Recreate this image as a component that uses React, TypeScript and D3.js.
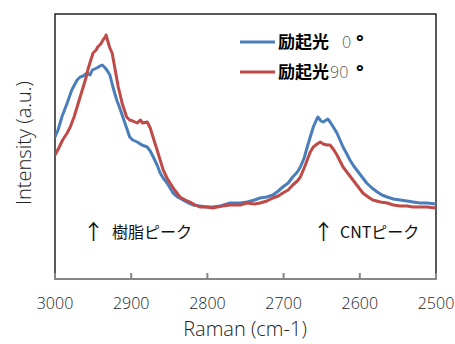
import * as d3 from "d3"

// Raman shift (cm-1) and intensity (a.u.)
const blueShift = [3000, 2996, 2991, 2984, 2978, 2971, 2967, 2963, 2958, 2954, 2951, 2945, 2941, 2938, 2934, 2932, 2928, 2924, 2919, 2915, 2911, 2906, 2902, 2898, 2892, 2886, 2879, 2875, 2871, 2866, 2862, 2858, 2853, 2849, 2845, 2839, 2832, 2825, 2819, 2810, 2801, 2793, 2783, 2770, 2757, 2748, 2738, 2731, 2722, 2714, 2707, 2701, 2694, 2688, 2682, 2678, 2673, 2669, 2665, 2661, 2657, 2655, 2651, 2648, 2644, 2642, 2639, 2634, 2630, 2626, 2622, 2617, 2613, 2608, 2604, 2597, 2591, 2584, 2577, 2571, 2564, 2556, 2547, 2538, 2530, 2521, 2512, 2500]
const blueValues = [1420, 1490, 1620, 1760, 1890, 1990, 2020, 2030, 2060, 2040, 2090, 2110, 2130, 2140, 2110, 2090, 2040, 1920, 1790, 1710, 1620, 1510, 1420, 1390, 1370, 1340, 1320, 1280, 1220, 1140, 1060, 1010, 960, 910, 860, 820, 790, 760, 740, 730, 720, 720, 730, 760, 760, 770, 790, 810, 820, 840, 880, 920, 960, 1020, 1070, 1120, 1210, 1320, 1420, 1520, 1590, 1620, 1580, 1570, 1590, 1600, 1570, 1510, 1460, 1390, 1320, 1250, 1190, 1130, 1090, 1020, 960, 910, 870, 840, 820, 800, 790, 780, 770, 760, 760, 750]

const redShift = [3000, 2995, 2990, 2984, 2980, 2975, 2971, 2967, 2963, 2959, 2957, 2953, 2950, 2946, 2944, 2940, 2937, 2934, 2933, 2930, 2928, 2925, 2921, 2917, 2915, 2912, 2909, 2906, 2902, 2898, 2892, 2888, 2885, 2879, 2875, 2871, 2866, 2862, 2858, 2853, 2849, 2843, 2836, 2829, 2823, 2816, 2810, 2801, 2793, 2787, 2780, 2770, 2757, 2748, 2738, 2731, 2722, 2714, 2707, 2701, 2694, 2688, 2682, 2678, 2673, 2669, 2665, 2661, 2656, 2652, 2648, 2643, 2639, 2634, 2630, 2626, 2622, 2615, 2609, 2602, 2596, 2589, 2583, 2573, 2564, 2556, 2547, 2538, 2530, 2521, 2512, 2500]
const redValues = [1240, 1310, 1390, 1460, 1520, 1620, 1720, 1820, 1920, 2020, 2090, 2190, 2260, 2290, 2320, 2350, 2390, 2420, 2440, 2360, 2310, 2260, 2090, 1920, 1860, 1760, 1690, 1620, 1590, 1580, 1560, 1590, 1560, 1570, 1510, 1410, 1290, 1190, 1090, 1010, 960, 890, 820, 790, 770, 740, 720, 720, 710, 720, 730, 740, 740, 760, 750, 760, 780, 810, 830, 860, 890, 940, 980, 1020, 1110, 1190, 1270, 1320, 1350, 1370, 1350, 1340, 1340, 1290, 1240, 1180, 1120, 1050, 990, 920, 860, 820, 790, 770, 760, 740, 730, 730, 720, 720, 720, 710]

const xTicks = [3000, 2900, 2800, 2700, 2600, 2500]
const seriesNames = ["励起光", "励起光"]
const seriesAngles = ["0", "90"]
const seriesColors = ["#4a7ebb", "#be4b48"]

const latin = "'Open Sans', 'Noto Sans CJK JP', sans-serif"
const cjk = "'Noto Sans CJK JP', 'Open Sans', sans-serif"

export default function App() {
    const width = 455
    const height = 344
    const margin = { top: 14, right: 19, bottom: 65, left: 55 }
    const innerW = width - margin.left - margin.right
    const innerH = height - margin.top - margin.bottom

    const x = d3.scaleLinear().domain([3000, 2500]).range([0, innerW])
    const y = d3.scaleLinear().domain([0, 2650]).range([innerH, 0])

    const makePath = (xs: number[], ys: number[]) =>
        d3
            .line<number>()
            .x((_, i) => x(xs[i]))
            .y((_, i) => y(ys[i]))(xs) ?? ""

    const series = [
        { xs: blueShift, ys: blueValues },
        { xs: redShift, ys: redValues },
    ]

    return (
        <div style={{ position: "fixed", left: 0, top: 0 }}>
            <svg width={width} height={height} style={{ display: "block", background: "#fff" }}>
                <defs>
                    <clipPath id="plot">
                        <rect x={0} y={0} width={innerW} height={innerH} />
                    </clipPath>
                </defs>
                <g transform={`translate(${margin.left},${margin.top})`}>
                    {/* Plot frame */}
                    <rect x={0} y={0} width={innerW} height={innerH} fill="none" stroke="#000" strokeWidth={1.3} />

                    {/* Curves */}
                    <g clipPath="url(#plot)">
                        {series.map((s, i) => (
                            <path
                                key={i}
                                d={makePath(s.xs, s.ys)}
                                fill="none"
                                stroke={seriesColors[i]}
                                strokeWidth={3}
                                strokeLinejoin="round"
                            />
                        ))}
                    </g>

                    {/* X axis */}
                    <g transform={`translate(0,${innerH})`}>
                        <line x1={0} x2={innerW} stroke="#868686" strokeWidth={2} />
                        {xTicks.map((t) => (
                            <g key={t} transform={`translate(${x(t)},0)`}>
                                <line y2={-6} stroke="#868686" strokeWidth={2} />
                                <text y={30} textAnchor="middle" fontSize={16} fontWeight={300} fontFamily={latin} fill="#222">
                                    {t}
                                </text>
                            </g>
                        ))}
                    </g>

                    {/* Legend */}
                    {seriesNames.map((name, i) => (
                        <g key={i} transform={`translate(185,${28 + i * 30})`}>
                            <line x1={0} x2={35} stroke={seriesColors[i]} strokeWidth={3} />
                            <text x={38} y={6} fontSize={17} fontWeight="bold" fontFamily={cjk} fill="#000">
                                {name}
                            </text>
                            <text x={i === 0 ? 102 : 90} y={6} fontSize={16} fontWeight={300} fontFamily={latin} fill="#555">
                                {seriesAngles[i]}
                            </text>
                            <text x={116} y={6} fontSize={18} fontWeight="bold" fontFamily={latin} fill="#000">
                                °
                            </text>
                        </g>
                    ))}

                    {/* Peak annotations */}
                    <text x={28} y={225} fontSize={21} fontFamily={cjk} fill="#111">
                        ↑
                    </text>
                    <text x={57} y={224} fontSize={16} fontFamily={cjk} fill="#111">
                        樹脂ピーク
                    </text>
                    <text x={258} y={225} fontSize={21} fontFamily={cjk} fill="#111">
                        ↑
                    </text>
                    <text x={285} y={224} fontSize={16} fontFamily={cjk} fill="#111">
                        CNTピーク
                    </text>
                </g>

                {/* Axis titles */}
                <text x={245} y={336} textAnchor="middle" fontSize={20} fontWeight={300} fontFamily={latin} fill="#222">
                    Raman (cm-1)
                </text>
                <text
                    transform={`translate(31,143) rotate(-90)`}
                    textAnchor="middle"
                    fontSize={20}
                    fontWeight={300}
                    fontFamily={latin}
                    fill="#222"
                >
                    Intensity (a.u.)
                </text>
            </svg>
        </div>
    )
}
